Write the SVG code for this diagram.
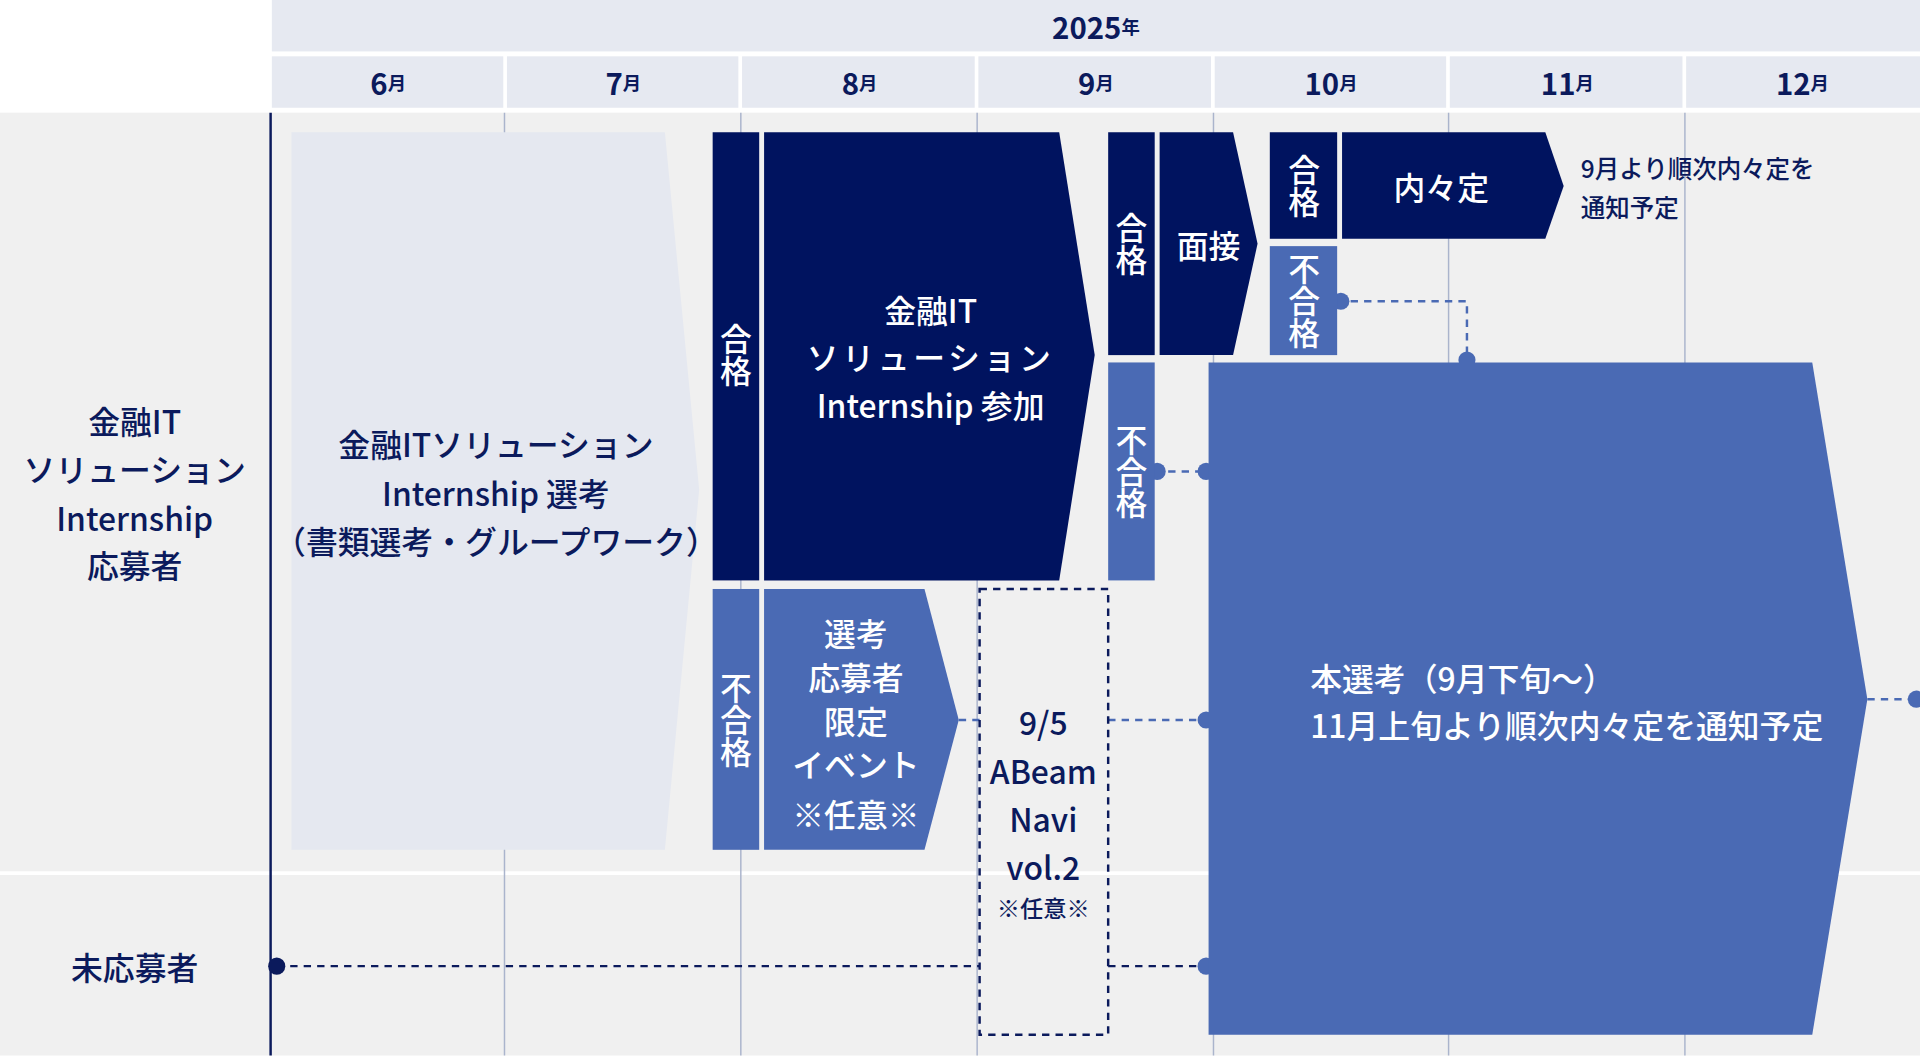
<svg xmlns="http://www.w3.org/2000/svg" width="1920" height="1056" viewBox="0 0 1920 1056">
<style>
text{font-family:"Noto Sans CJK JP","Noto Sans",sans-serif;text-anchor:middle;dominant-baseline:central}
text.st{text-anchor:start}
.hd{fill:#e6e9f1}.mo{font-size:24px;font-weight:bold;fill:#0b1a5c}
.dk{fill:#00135f}.md{fill:#4a6ab4}.w{fill:#fff;font-size:26px;font-weight:500}
.gl{stroke:#aab4cc;stroke-width:1.2}
.dc{stroke:#4a6ab4;stroke-width:2;stroke-dasharray:6 5;fill:none}
.dn{stroke:#0b1a5c;stroke-width:2;stroke-dasharray:6 5;fill:none}
.lbl{font-size:26px;fill:#0b1a5c;font-weight:500}
</style>
<rect width="1920" height="1056" fill="#fff"/>
<g transform="scale(1.2245)">
<g id="header">
<rect x="222" y="0" width="1346" height="42" class="hd"/>
<text x="895" y="21" class="mo">2025<tspan font-size="15">年</tspan></text>
<rect x="222" y="46" width="189" height="42" class="hd"/><text x="317" y="67" class="mo">6<tspan font-size="15">月</tspan></text>
<rect x="414" y="46" width="189" height="42" class="hd"/><text x="509" y="67" class="mo">7<tspan font-size="15">月</tspan></text>
<rect x="606" y="46" width="190" height="42" class="hd"/><text x="702" y="67" class="mo">8<tspan font-size="15">月</tspan></text>
<rect x="799" y="46" width="190" height="42" class="hd"/><text x="895" y="67" class="mo">9<tspan font-size="15">月</tspan></text>
<rect x="992" y="46" width="189" height="42" class="hd"/><text x="1087" y="67" class="mo">10<tspan font-size="15">月</tspan></text>
<rect x="1184" y="46" width="190" height="42" class="hd"/><text x="1280" y="67" class="mo">11<tspan font-size="15">月</tspan></text>
<rect x="1377" y="46" width="191" height="42" class="hd"/><text x="1472" y="67" class="mo">12<tspan font-size="15">月</tspan></text>
</g>
<g id="body">
<rect x="0" y="92" width="1568" height="770" fill="#f0f0f0"/>
<line x1="0" y1="713" x2="1568" y2="713" stroke="#fff" stroke-width="3"/>
<line x1="412" y1="92" x2="412" y2="862" class="gl"/><line x1="605" y1="92" x2="605" y2="862" class="gl"/>
<line x1="798" y1="92" x2="798" y2="862" class="gl"/><line x1="991" y1="92" x2="991" y2="862" class="gl"/>
<line x1="1183" y1="92" x2="1183" y2="862" class="gl"/><line x1="1376" y1="92" x2="1376" y2="862" class="gl"/>
<line x1="221" y1="92" x2="221" y2="862" stroke="#0b1a5c" stroke-width="2"/>
</g>
<g id="rowlabels" class="lbl">
<text x="110" y="343">金融IT</text><text x="110" y="382">ソリューション</text><text x="110" y="422">Internship</text><text x="110" y="461">応募者</text>
<text x="110" y="789">未応募者</text>
</g>
<g id="connectors">
<path d="M783 588H800M905 588H987" class="dc"/>
<path d="M943 385H987" class="dc"/>
<path d="M1092 246H1198V296" class="dc"/>
<path d="M1525 571H1566" class="dc"/>
<path d="M226 789H800M905 789H987" class="dn"/>
<g fill="#4a6ab4"><circle cx="945" cy="385" r="7"/><circle cx="985" cy="385" r="7"/><circle cx="1095" cy="246" r="7"/><circle cx="1198" cy="294" r="7"/><circle cx="985" cy="588" r="7"/><circle cx="1565" cy="571" r="7"/><circle cx="985" cy="789" r="7"/></g>
<circle cx="226" cy="789" r="7" fill="#0b1a5c"/>
</g>
<g id="selection">
<polygon points="238,108 543,108 571,400 543,694 238,694" fill="#e5e8f0"/>
<text x="405" y="362" class="lbl">金融ITソリューション</text><text x="405" y="402" class="lbl">Internship 選考</text>
<text x="405" y="441" class="lbl" font-size="20">（書類選考・グループワーク）</text>
</g>
<g id="pass1"><rect x="582" y="108" width="38" height="366" class="dk"/><text x="601" y="290" class="w" font-size="24" writing-mode="vertical-rl">合格</text></g>
<g id="internship"><polygon points="624,108 865,108 894,290 865,474 624,474" class="dk"/>
<text x="760" y="252" class="w">金融IT</text><text x="760" y="291" class="w" letter-spacing="3">ソリューション</text><text x="760" y="330" class="w">Internship 参加</text></g>
<g id="fail1"><rect x="582" y="481" width="38" height="213" class="md"/><text x="601" y="588" class="w" font-size="24" writing-mode="vertical-rl">不合格</text></g>
<g id="event"><polygon points="624,481 755,481 783,588 755,694 624,694" class="md"/>
<text x="699" y="516" class="w">選考</text><text x="699" y="552" class="w">応募者</text><text x="699" y="588" class="w">限定</text><text x="699" y="623" class="w">イベント</text><text x="699" y="664" class="w" font-size="19">※任意※</text></g>
<g id="navi"><rect x="800" y="481" width="105" height="364" fill="none" stroke="#0b1a5c" stroke-width="2" stroke-dasharray="6 5"/>
<g class="lbl"><text x="852" y="589">9/5</text><text x="852" y="629">ABeam</text><text x="852" y="668">Navi</text><text x="852" y="707">vol.2</text><text x="852" y="741" font-size="19">※任意※</text></g></g>
<g id="pass2"><rect x="905" y="108" width="38" height="182" class="dk"/><text x="924" y="199" class="w" font-size="24" writing-mode="vertical-rl">合格</text></g>
<g id="interview"><polygon points="947,108 1007,108 1027,199 1007,290 947,290" class="dk"/><text x="987" y="199" class="w">面接</text></g>
<g id="fail2"><rect x="905" y="296" width="38" height="178" class="md"/><text x="924" y="385" class="w" font-size="24" writing-mode="vertical-rl">不合格</text></g>
<g id="pass3"><rect x="1037" y="108" width="55" height="87" class="dk"/><text x="1065" y="152" class="w" font-size="24" writing-mode="vertical-rl">合格</text></g>
<g id="offer"><polygon points="1096,108 1262,108 1277,152 1262,195 1096,195" class="dk"/><text x="1177" y="152" class="w">内々定</text></g>
<g id="fail3"><rect x="1037" y="201" width="55" height="89" class="md"/><text x="1065" y="246" class="w" font-size="24" writing-mode="vertical-rl">不合格</text></g>
<g id="offernote" class="lbl"><text x="1291" y="137" class="st" font-size="20">9月より順次内々定を</text><text x="1291" y="169" class="st" font-size="20">通知予定</text></g>
<g id="main"><polygon points="987,296 1480,296 1525,571 1480,845 987,845" class="md"/>
<text x="1070" y="553" class="w st" font-size="26">本選考（9月下旬〜）</text>
<text x="1070" y="591" class="w st" font-size="19">11月上旬より順次内々定を通知予定</text></g>
</g>
</svg>
